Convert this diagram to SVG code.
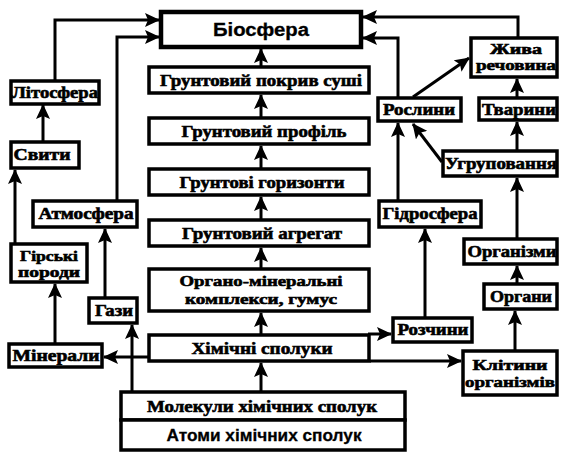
<svg xmlns="http://www.w3.org/2000/svg" width="562" height="453" viewBox="0 0 562 453">
<style>
rect.b{fill:#fff;stroke:#000;stroke-width:3.5}
text{font-family:'Liberation Serif','DejaVu Serif',serif;font-weight:bold;font-size:16px;fill:#000;stroke:#000;stroke-width:0.6;text-anchor:middle}
text.c{font-size:17px}
text.t{font-size:14px}
text.t2{font-size:15px}
text.s{font-family:'Liberation Sans','DejaVu Sans',sans-serif;stroke-width:0.3}
#connectors path{fill:none;stroke:#000;stroke-width:3;marker-end:url(#ah)}
</style>
<defs>
<marker id="ah" viewBox="0 0 15 14" refX="14" refY="7" markerWidth="15" markerHeight="14" markerUnits="userSpaceOnUse" orient="auto">
<path d="M0,0 L15,7 L0,14 L3,7 z" fill="#000"/>
</marker>
</defs>
<rect width="562" height="453" fill="#fff"/>
<g id="connectors">
<path d="M55,81 V20 H159"/>
<path d="M117,200 V37 H159"/>
<path d="M518,37 V17 H363"/>
<path d="M398,97 V38 H363"/>
<path d="M261,66 V49"/>
<path d="M261,117 V95"/>
<path d="M261,168 V146"/>
<path d="M261,219 V197"/>
<path d="M261,268 V248"/>
<path d="M261,334 V313"/>
<path d="M261,391 V363"/>
<path d="M43,141 V105"/>
<path d="M15,243 V170"/>
<path d="M55,343 V284"/>
<path d="M105,297 V229"/>
<path d="M132,391 V325"/>
<path d="M148,357 H104"/>
<path d="M368,334 H391"/>
<path d="M370,361 H461"/>
<path d="M398,200 V123"/>
<path d="M425,317 V229"/>
<path d="M413,97 L469,58"/>
<path d="M442,162 L413,124"/>
<path d="M517,97 V79"/>
<path d="M517,150 V122"/>
<path d="M517,238 V178"/>
<path d="M517,283 V266"/>
<path d="M515,350 V311"/>
</g>
<g id="biosfera"><rect class="b" x="161" y="12" width="200" height="35" style="stroke-width:4.5"/><text class="s" x="261" y="36" style="font-size:18px" textLength="96" lengthAdjust="spacingAndGlyphs">Біосфера</text></g>
<g id="pokryv"><rect class="b" x="149" y="67" width="220" height="26"/><text class="c" x="261" y="86" textLength="202" lengthAdjust="spacingAndGlyphs">Грунтовий покрив суші</text></g>
<g id="profil"><rect class="b" x="149" y="118" width="220" height="26"/><text class="c" x="264" y="137" textLength="165" lengthAdjust="spacingAndGlyphs">Грунтовий профіль</text></g>
<g id="horyzonty"><rect class="b" x="149" y="169" width="220" height="26"/><text class="c" x="262" y="188" textLength="165" lengthAdjust="spacingAndGlyphs">Грунтові горизонти</text></g>
<g id="ahrehat"><rect class="b" x="149" y="220" width="220" height="26"/><text class="c" x="262" y="239" textLength="160" lengthAdjust="spacingAndGlyphs">Грунтовий агрегат</text></g>
<g id="orhano"><rect class="b" x="149" y="269" width="220" height="42"/><text class="t2" x="261" y="286" textLength="163" lengthAdjust="spacingAndGlyphs">Органо-мінеральні</text><text class="t2" x="261" y="304" textLength="152" lengthAdjust="spacingAndGlyphs">комплекси, гумус</text></g>
<g id="khimichni"><rect class="b" x="149" y="335" width="220" height="26"/><text class="c" x="262" y="354" textLength="141" lengthAdjust="spacingAndGlyphs">Хімічні сполуки</text></g>
<g id="molekuly"><rect class="b" x="121" y="392" width="284" height="28"/><text class="c" x="262" y="412" textLength="230" lengthAdjust="spacingAndGlyphs">Молекули хімічних сполук</text></g>
<g id="atomy"><rect class="b" x="121" y="420" width="284" height="30"/><text class="c s" x="264" y="441" textLength="195" lengthAdjust="spacingAndGlyphs">Атоми хімічних сполук</text></g>
<g id="litosfera"><rect class="b" x="11" y="81" width="88" height="23"/><text x="55" y="98" textLength="86" lengthAdjust="spacingAndGlyphs">Літосфера</text></g>
<g id="svyty"><rect class="b" x="11" y="142" width="68" height="26"/><text x="42" y="160" textLength="57" lengthAdjust="spacingAndGlyphs">Свити</text></g>
<g id="hirski"><rect class="b" x="11" y="244" width="76" height="38"/><text class="t" x="49" y="261" textLength="58" lengthAdjust="spacingAndGlyphs">Гірські</text><text class="t" x="49" y="277" textLength="62" lengthAdjust="spacingAndGlyphs">породи</text></g>
<g id="atmosfera"><rect class="b" x="33" y="201" width="104" height="26"/><text x="86" y="219" textLength="95" lengthAdjust="spacingAndGlyphs">Атмосфера</text></g>
<g id="hazy"><rect class="b" x="89" y="298" width="48" height="25"/><text x="114" y="316" textLength="38" lengthAdjust="spacingAndGlyphs">Гази</text></g>
<g id="mineraly"><rect class="b" x="9" y="344" width="93" height="23"/><text x="56" y="361" textLength="87" lengthAdjust="spacingAndGlyphs">Мінерали</text></g>
<g id="zhyva"><rect class="b" x="471" y="38" width="86" height="39"/><text class="t" x="516" y="54" textLength="52" lengthAdjust="spacingAndGlyphs">Жива</text><text class="t" x="516" y="70" textLength="80" lengthAdjust="spacingAndGlyphs">речовина</text></g>
<g id="roslyny"><rect class="b" x="378" y="98" width="83" height="23"/><text x="419" y="115" textLength="72" lengthAdjust="spacingAndGlyphs">Рослини</text></g>
<g id="tvaryny"><rect class="b" x="479" y="98" width="78" height="22"/><text x="519" y="115" textLength="74" lengthAdjust="spacingAndGlyphs">Тварини</text></g>
<g id="uhrupovannia"><rect class="b" x="443" y="151" width="114" height="25"/><text x="501" y="169" textLength="112" lengthAdjust="spacingAndGlyphs">Угруповання</text></g>
<g id="hidrosfera"><rect class="b" x="379" y="201" width="102" height="26"/><text x="430" y="219" textLength="95" lengthAdjust="spacingAndGlyphs">Гідросфера</text></g>
<g id="orhanizmy"><rect class="b" x="464" y="239" width="93" height="25"/><text x="512" y="257" textLength="89" lengthAdjust="spacingAndGlyphs">Організми</text></g>
<g id="orhany"><rect class="b" x="484" y="284" width="73" height="25"/><text x="521" y="302" textLength="62" lengthAdjust="spacingAndGlyphs">Органи</text></g>
<g id="rozchyny"><rect class="b" x="393" y="318" width="79" height="24"/><text x="433" y="335" textLength="71" lengthAdjust="spacingAndGlyphs">Розчини</text></g>
<g id="klityny"><rect class="b" x="463" y="351" width="94" height="44"/><text class="t2" x="510" y="370" textLength="75" lengthAdjust="spacingAndGlyphs">Клітини</text><text class="t2" x="510" y="387" textLength="90" lengthAdjust="spacingAndGlyphs">організмів</text></g>
</svg>
